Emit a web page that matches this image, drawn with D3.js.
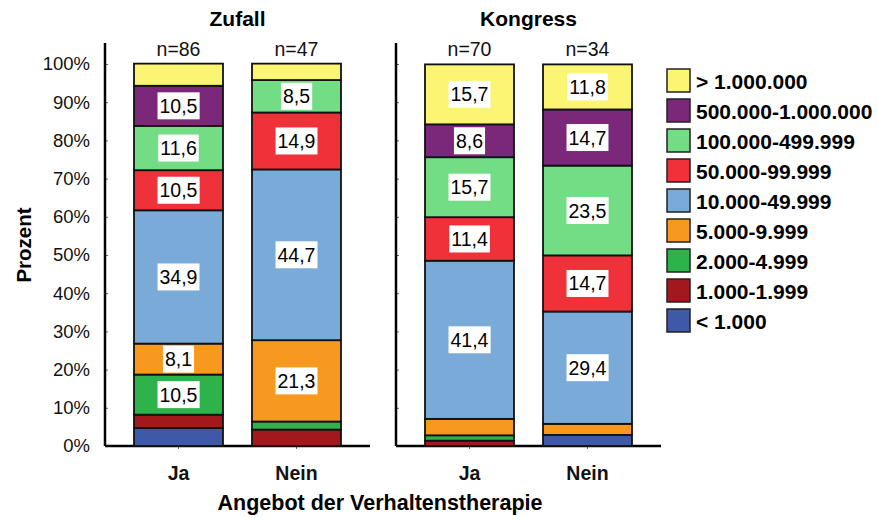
<!DOCTYPE html>
<html>
<head>
<meta charset="utf-8">
<script src="https://cdn.jsdelivr.net/npm/d3@7"></script>
<style>
  body { margin: 0; background: #fff; }
  svg { font-family: "Liberation Sans", Arial, sans-serif; }
</style>
</head>
<body>
<svg id="chart" width="878" height="520"></svg>
<script>
// categories (bottom to top of stack)
const classes = ["< 1.000", "1.000-1.999", "2.000-4.999", "5.000-9.999", "10.000-49.999",
  "50.000-99.999", "100.000-499.999", "500.000-1.000.000", "> 1.000.000"];
const colors = ["#3f58a8", "#a3181d", "#2db34a", "#f8991f", "#7aaad7",
  "#ef3239", "#72dd84", "#7b287b", "#faf673"];
const panels = ["Zufall", "Kongress"];
const answers = ["Ja", "Nein"];
const nCounts = { Zufall: [86, 47], Kongress: [70, 34] };

// percent per class, same order as classes
const zufallJa = [4.7, 3.5, 10.5, 8.1, 34.9, 10.5, 11.6, 10.5, 5.8];
const zufallNein = [0, 4.3, 2.1, 21.3, 44.7, 14.9, 8.5, 0, 4.3];
const kongressJa = [0, 1.4, 1.4, 4.3, 41.4, 11.4, 15.7, 8.6, 15.7];
const kongressNein = [2.9, 0, 0, 2.9, 29.4, 14.7, 23.5, 14.7, 11.8];
const yTicks = [0, 10, 20, 30, 40, 50, 60, 70, 80, 90, 100];

const values = { Zufall: [zufallJa, zufallNein], Kongress: [kongressJa, kongressNein] };

const svg = d3.select("#chart");
const y = d3.scaleLinear().domain([0, 100]).range([446, 64]);
const panelRange = { Zufall: [105, 370], Kongress: [396, 661] };

panels.forEach((p) => {
  const x = d3.scaleBand().domain(answers).range(panelRange[p]).padding(0.2458);
  const g = svg.append("g");

  // axes
  const yAxis = d3.axisLeft(y).tickValues(yTicks).tickSize(-3).tickPadding(15)
    .tickFormat((d) => p === "Zufall" ? d + "%" : "");
  const ya = g.append("g").attr("transform", `translate(${panelRange[p][0]},0)`).call(yAxis);
  ya.select(".domain").remove();
  ya.selectAll("line").attr("stroke", "#666");
  ya.selectAll("text").attr("font-size", 18.5).attr("fill", "#111");
  g.append("line").attr("x1", panelRange[p][0]).attr("x2", panelRange[p][0])
    .attr("y1", y(105.5)).attr("y2", y(0)).attr("stroke", "#000").attr("stroke-width", 2.5);

  const xa = g.append("g").attr("transform", `translate(0,${y(0)})`)
    .call(d3.axisBottom(x).tickSize(3).tickPadding(17));
  xa.select(".domain").remove();
  xa.selectAll("line").attr("stroke", "#666");
  xa.selectAll("text").attr("font-size", 19.5).attr("font-weight", "bold").attr("fill", "#111");
  g.append("line").attr("x1", panelRange[p][0]).attr("x2", panelRange[p][1])
    .attr("y1", y(0)).attr("y2", y(0)).attr("stroke", "#000").attr("stroke-width", 2.5);

  // panel title
  g.append("text").attr("x", (x("Ja") + x("Nein") + x.bandwidth()) / 2).attr("y", 26)
    .attr("text-anchor", "middle").attr("font-size", 21).attr("font-weight", "bold").text(p);

  answers.forEach((a, ai) => {
    const vals = values[p][ai];
    let cum = 0;
    const segs = vals.map((v, i) => { const s = { i, v, y0: cum, y1: cum + v }; cum += v; return s; })
      .filter((s) => s.v > 0);
    const bg = g.append("g");
    bg.selectAll("rect").data(segs).join("rect")
      .attr("x", x(a)).attr("width", x.bandwidth())
      .attr("y", (d) => y(d.y1)).attr("height", (d) => y(d.y0) - y(d.y1))
      .attr("fill", (d) => colors[d.i]).attr("stroke", "#111").attr("stroke-width", 1.8);

    // value labels
    segs.filter((s) => s.v >= 8).forEach((s) => {
      const cx = x(a) + x.bandwidth() / 2, cy = y((s.y0 + s.y1) / 2);
      const lg = bg.append("g");
      const t = lg.append("text").attr("x", cx).attr("y", cy).attr("dy", "0.36em")
        .attr("text-anchor", "middle").attr("font-size", 19.5).attr("fill", "#000")
        .text(s.v.toFixed(1).replace(".", ","));
      const b = t.node().getBBox();
      lg.insert("rect", "text").attr("x", b.x - 2).attr("y", cy - 13.5)
        .attr("width", b.width + 4).attr("height", 27).attr("fill", "#fff");
    });

    g.append("text").attr("x", x(a) + x.bandwidth() / 2).attr("y", 56)
      .attr("text-anchor", "middle").attr("font-size", 19.5).attr("fill", "#111")
      .text("n=" + nCounts[p][ai]);
  });
});

// axis titles
svg.append("text").attr("transform", "translate(31,245) rotate(-90)")
  .attr("text-anchor", "middle").attr("font-size", 20.5).attr("font-weight", "bold").text("Prozent");
svg.append("text").attr("x", 380).attr("y", 510).attr("text-anchor", "middle")
  .attr("font-size", 21.5).attr("font-weight", "bold").text("Angebot der Verhaltenstherapie");

// legend, top entry first
const legend = svg.append("g").attr("transform", "translate(667,69)");
const legendItems = classes.map((c, i) => ({ c, i })).reverse();
legend.selectAll("g").data(legendItems).join("g")
  .attr("transform", (d, k) => `translate(0,${k * 30})`)
  .each(function (d) {
    const e = d3.select(this);
    e.append("rect").attr("width", 23).attr("height", 23).attr("fill", colors[d.i])
      .attr("stroke", "#222").attr("stroke-width", 1.5);
    e.append("text").attr("x", 29).attr("y", 12).attr("dy", "0.36em")
      .attr("font-size", 21).attr("font-weight", "bold").text(d.c);
  });
</script>
</body>
</html>
